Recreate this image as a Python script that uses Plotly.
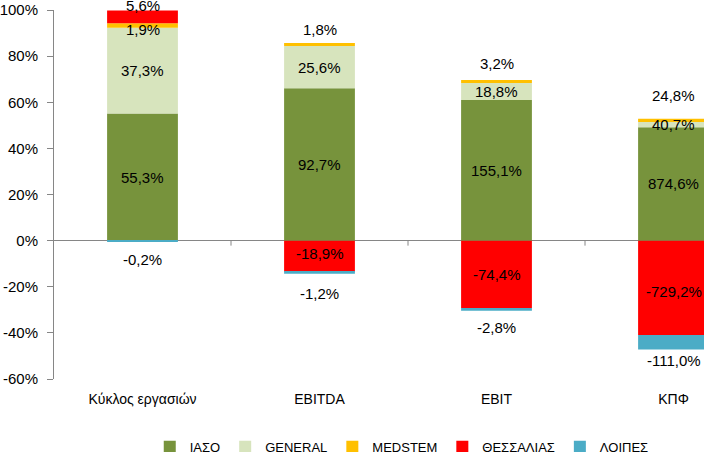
import plotly.graph_objects as go

categories = ["Κύκλος εργασιών", "EBITDA", "EBIT", "ΚΠΦ"]
series_names = ["ΙΑΣΟ", "GENERAL", "MEDSTEM", "ΘΕΣΣΑΛΙΑΣ", "ΛΟΙΠΕΣ"]
iaso = [55.3, 92.7, 155.1, 874.6]
general = [37.3, 25.6, 18.8, 40.7]
medstem = [1.9, 1.8, 3.2, 24.8]
thessalias = [5.6, -18.9, -74.4, -729.2]
loipes = [-0.2, -1.2, -2.8, -111.0]
y_ticks = [-60, -40, -20, 0, 20, 40, 60, 80, 100]

colors = ["#77933C", "#D7E4BD", "#FFC000", "#FF0000", "#4BACC6"]
# label nudges in pixels (style only)
label_nudge = [
    [0, 0, -4, 11, -19],
    [0, 0, 15, 3, -21],
    [0, 0, 18, 0, -18],
    [0, 0, 25, -4, -18],
]

values = [iaso, general, medstem, thessalias, loipes]
xpos = list(range(len(categories)))
abs_tot = [sum(abs(v[i]) for v in values) for i in xpos]
heights = [[v[i] / abs_tot[i] * 100 for i in xpos] for v in values]

fig = go.Figure()
for name, h, c in zip(series_names, heights, colors):
    fig.add_trace(go.Bar(x=xpos, y=h, name=name, marker=dict(color=c, line=dict(width=0)),
                         width=0.4, hoverinfo="skip"))

FONT = "Liberation Sans, Arial, sans-serif"

annotations = []
for i in xpos:
    pos_b, neg_b = 0.0, 0.0
    for s, v in enumerate(values):
        h = heights[s][i]
        if h >= 0:
            c = pos_b + h / 2
            pos_b += h
        else:
            c = neg_b + h / 2
            neg_b += h
        txt = f"{v[i]:.1f}".replace(".", ",") + "%"
        annotations.append(dict(x=i, y=c, xref="x", yref="y", text=txt, showarrow=False,
                                yshift=label_nudge[i][s], font=dict(family=FONT, size=15, color="black")))

shapes = []
for i in range(len(categories)):
    shapes.append(dict(type="line", xref="x", yref="y", x0=i + 0.5, x1=i + 0.5,
                       ysizemode="pixel", yanchor=0, y0=0, y1=-5,
                       line=dict(color="#868686", width=1)))

fig.update_layout(
    width=704, height=452,
    margin=dict(l=54, r=0, t=10, b=73, autoexpand=False),
    barmode="relative",
    plot_bgcolor="white", paper_bgcolor="white",
    showlegend=True,
    legend=dict(orientation="h", x=0.535, xanchor="center", y=-0.184, yanchor="middle",
                font=dict(family=FONT, size=13, color="black"), itemwidth=30,
                traceorder="normal"),
    annotations=annotations,
    shapes=shapes,
    xaxis=dict(range=[-0.5, -0.5 + 650 / 177], tickvals=xpos, ticktext=categories,
               showgrid=False, zeroline=False, showline=False, ticks="", automargin=False,
               tickfont=dict(family=FONT, size=14, color="black"), ticklabelstandoff=10),
    yaxis=dict(range=[-60, 100], tickvals=y_ticks, ticktext=[f"{t}%" for t in y_ticks],
               showgrid=False, showline=True, linecolor="#868686", linewidth=1,
               ticks="outside", ticklen=6, tickcolor="#868686", automargin=False,
               zeroline=True, zerolinecolor="#868686", zerolinewidth=1,
               tickfont=dict(family=FONT, size=15, color="black"), ticklabelstandoff=6),
)

fig.write_html("out.html", config={"displayModeBar": False},
               post_script="document.body.style.margin='0px';")
